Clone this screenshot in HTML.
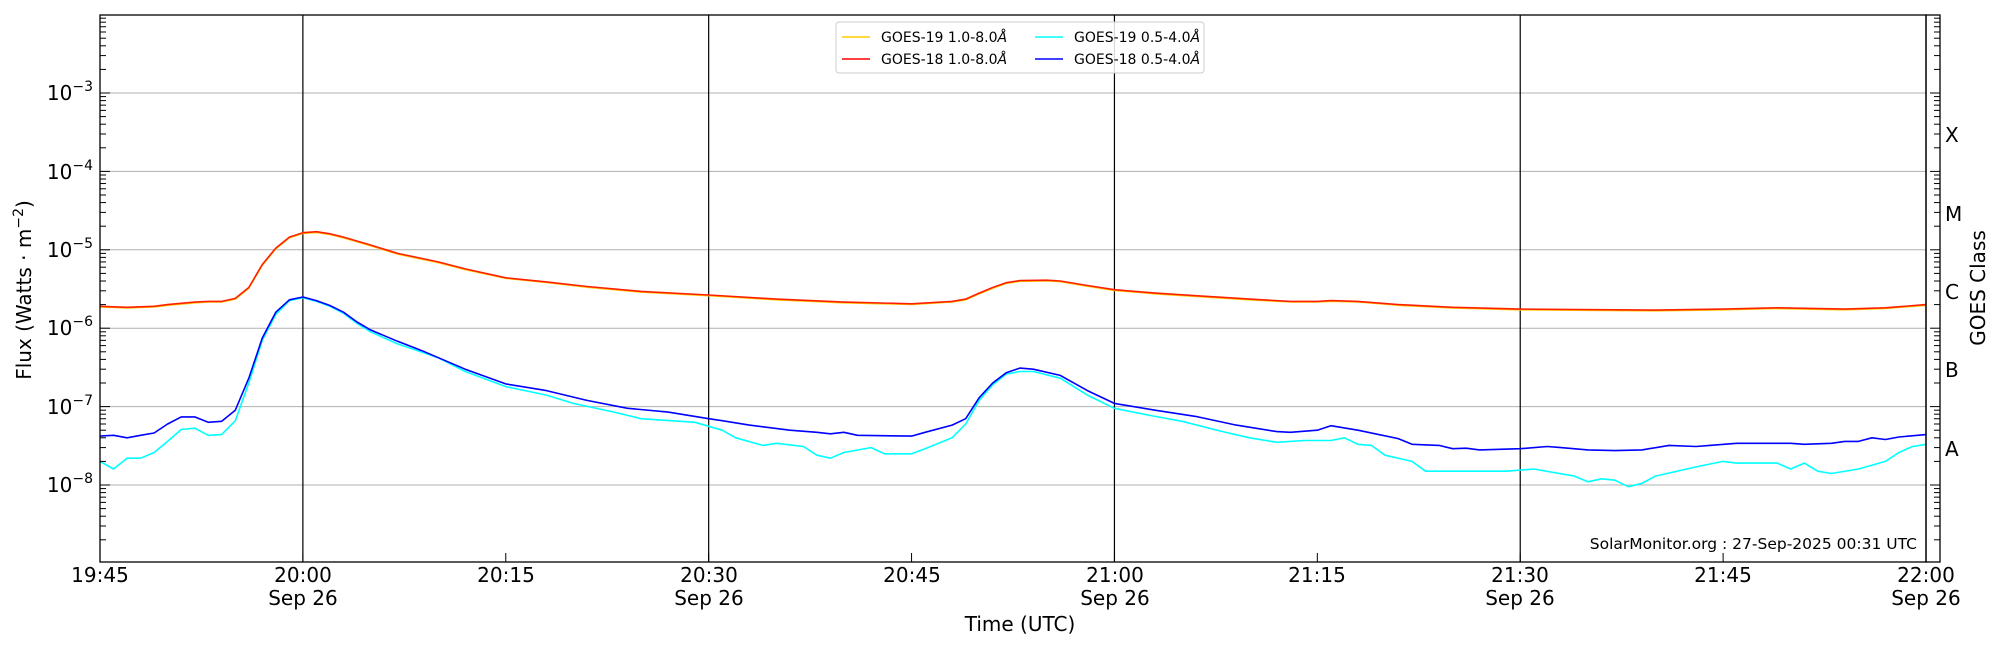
<!DOCTYPE html>
<html><head><meta charset="utf-8"><style>
html,body{margin:0;padding:0;background:#fff;}
svg{display:block;font-family:"DejaVu Sans","Liberation Sans",sans-serif;}
</style></head><body>
<svg id="s" width="2000" height="650" viewBox="0 0 2000 650" xmlns="http://www.w3.org/2000/svg">
<rect x="0" y="0" width="2000" height="650" fill="#fff"/>
<g id="grid"></g>
<g id="series" fill="none" stroke-width="1.6" stroke-linejoin="round"></g>
<g id="ticks" stroke="#000" stroke-width="1"></g>
<rect x="100" y="15" width="1826" height="547" fill="none" stroke="#000" stroke-width="1.3"/>
<rect x="1926" y="15" width="14" height="547" fill="none" stroke="#000" stroke-width="1.3"/>
<g font-size="20" fill="#000" text-anchor="end">
<text x="93" y="100">10<tspan font-size="14" dy="-9">−3</tspan></text>
<text x="93" y="179">10<tspan font-size="14" dy="-9">−4</tspan></text>
<text x="93" y="257">10<tspan font-size="14" dy="-9">−5</tspan></text>
<text x="93" y="335">10<tspan font-size="14" dy="-9">−6</tspan></text>
<text x="93" y="414">10<tspan font-size="14" dy="-9">−7</tspan></text>
<text x="93" y="492">10<tspan font-size="14" dy="-9">−8</tspan></text>
</g>
<g font-size="20" fill="#000">
<text x="1945" y="142">X</text>
<text x="1945" y="221">M</text>
<text x="1945" y="299">C</text>
<text x="1945" y="377">B</text>
<text x="1945" y="456">A</text>
</g>
<g font-size="20" fill="#000" text-anchor="middle">
<text x="100" y="582">19:45</text>
<text x="303" y="582">20:00</text><text x="303" y="605">Sep 26</text>
<text x="506" y="582">20:15</text>
<text x="709" y="582">20:30</text><text x="709" y="605">Sep 26</text>
<text x="912" y="582">20:45</text>
<text x="1115" y="582">21:00</text><text x="1115" y="605">Sep 26</text>
<text x="1317" y="582">21:15</text>
<text x="1520" y="582">21:30</text><text x="1520" y="605">Sep 26</text>
<text x="1723" y="582">21:45</text>
<text x="1926" y="582">22:00</text><text x="1926" y="605">Sep 26</text>
<text x="1020" y="631">Time (UTC)</text>
<text transform="translate(31,290) rotate(-90)">Flux (Watts · m<tspan font-size="14" dy="-8">−2</tspan><tspan dy="8">)</tspan></text>
<text transform="translate(1985,288) rotate(-90)">GOES Class</text>
</g>
<text x="1917" y="549" font-size="15.5" text-anchor="end" fill="#000">SolarMonitor.org : 27-Sep-2025 00:31 UTC</text>
<g>
<rect x="836" y="22" width="368" height="51" rx="3" fill="#fff" fill-opacity="0.85" stroke="#ccc" stroke-width="1"/>
<line x1="842" y1="37" x2="870" y2="37" stroke="#ffcc00" stroke-width="1.5"/>
<line x1="842" y1="59" x2="870" y2="59" stroke="#ff0000" stroke-width="1.5"/>
<line x1="1035" y1="37" x2="1063" y2="37" stroke="#00ffff" stroke-width="1.5"/>
<line x1="1035" y1="59" x2="1063" y2="59" stroke="#0000ff" stroke-width="1.5"/>
<g font-size="14" fill="#000">
<text x="881" y="42">GOES-19 1.0-8.0<tspan font-style="italic">Å</tspan></text>
<text x="881" y="64">GOES-18 1.0-8.0<tspan font-style="italic">Å</tspan></text>
<text x="1074" y="42">GOES-19 0.5-4.0<tspan font-style="italic">Å</tspan></text>
<text x="1074" y="64">GOES-18 0.5-4.0<tspan font-style="italic">Å</tspan></text>
</g>
</g>
</svg>
<script>
(function(){
var NS="http://www.w3.org/2000/svg";
function X(m){return 100+m*1826/135;}
function Y(v){return 14.6+(-2-Math.log10(v))*78.4;}
function el(p,t,a){var e=document.createElementNS(NS,t);for(var k in a)e.setAttribute(k,a[k]);p.appendChild(e);return e;}
var g=document.getElementById('grid'),tk=document.getElementById('ticks'),sr=document.getElementById('series');
for(var d=-3;d>=-8;d--){var y=Y(Math.pow(10,d));el(g,'line',{x1:100,x2:1926,y1:y,y2:y,stroke:'#b0b0b0','stroke-width':1});}
[15,45,75,105].forEach(function(m){el(g,'line',{x1:X(m),x2:X(m),y1:15,y2:562,stroke:'#000','stroke-width':1.2});});
for(var d=-9;d<-2;d++){for(var k=1;k<10;k++){var v=k*Math.pow(10,d);var y=Y(v);if(y<15||y>562)continue;var L=(k==1)?10:6;
el(tk,'line',{x1:100,x2:100+L,y1:y,y2:y});el(tk,'line',{x1:1940,x2:1940-L,y1:y,y2:y});}}
for(var m=0;m<=135;m+=15){el(tk,'line',{x1:X(m),x2:X(m),y1:562,y2:553});}
function P(pts){return pts.map(function(p){var t=p[0].split(':');var m=(+t[0]-19)*60+(+t[1])-45;return X(m).toFixed(1)+','+Y(p[1]).toFixed(1);}).join(' ');}
var red=[["19:45",1.9e-6],["19:47",1.85e-6],["19:49",1.9e-6],["19:50",2.0e-6],["19:52",2.15e-6],["19:53",2.2e-6],["19:54",2.2e-6],["19:55",2.4e-6],["19:56",3.3e-6],["19:57",6.5e-6],["19:58",1.05e-5],["19:59",1.45e-5],["20:00",1.65e-5],["20:01",1.7e-5],["20:02",1.6e-5],["20:03",1.45e-5],["20:05",1.15e-5],["20:07",9e-6],["20:10",7e-6],["20:12",5.7e-6],["20:15",4.4e-6],["20:18",3.9e-6],["20:21",3.4e-6],["20:25",2.95e-6],["20:30",2.65e-6],["20:35",2.35e-6],["20:40",2.15e-6],["20:45",2.05e-6],["20:48",2.2e-6],["20:49",2.35e-6],["20:50",2.8e-6],["20:51",3.3e-6],["20:52",3.8e-6],["20:53",4.05e-6],["20:55",4.1e-6],["20:56",4.0e-6],["20:58",3.5e-6],["21:00",3.1e-6],["21:03",2.8e-6],["21:06",2.6e-6],["21:10",2.35e-6],["21:13",2.2e-6],["21:15",2.2e-6],["21:16",2.25e-6],["21:18",2.2e-6],["21:21",2.0e-6],["21:25",1.85e-6],["21:30",1.75e-6],["21:40",1.7e-6],["21:45",1.75e-6],["21:49",1.82e-6],["21:54",1.75e-6],["21:57",1.82e-6],["22:00",2.0e-6]];
var blue=[["19:45",4.2e-8],["19:46",4.3e-8],["19:47",4.0e-8],["19:48",4.3e-8],["19:49",4.6e-8],["19:50",6.0e-8],["19:51",7.4e-8],["19:52",7.4e-8],["19:53",6.3e-8],["19:54",6.5e-8],["19:55",9e-8],["19:56",2.3e-7],["19:57",7.5e-7],["19:58",1.6e-6],["19:59",2.3e-6],["20:00",2.5e-6],["20:01",2.25e-6],["20:02",1.95e-6],["20:03",1.6e-6],["20:04",1.2e-6],["20:05",9.5e-7],["20:07",6.8e-7],["20:09",5e-7],["20:12",3e-7],["20:15",1.95e-7],["20:18",1.6e-7],["20:21",1.2e-7],["20:24",9.5e-8],["20:27",8.5e-8],["20:30",7e-8],["20:31",6.6e-8],["20:33",5.8e-8],["20:36",5e-8],["20:38",4.7e-8],["20:39",4.5e-8],["20:40",4.7e-8],["20:41",4.3e-8],["20:45",4.2e-8],["20:46",4.7e-8],["20:48",5.8e-8],["20:49",7e-8],["20:50",1.3e-7],["20:51",2e-7],["20:52",2.7e-7],["20:53",3.1e-7],["20:54",3.0e-7],["20:56",2.5e-7],["20:58",1.6e-7],["21:00",1.1e-7],["21:03",9e-8],["21:06",7.5e-8],["21:09",5.8e-8],["21:12",4.8e-8],["21:13",4.7e-8],["21:15",5e-8],["21:16",5.7e-8],["21:18",5e-8],["21:21",3.9e-8],["21:22",3.3e-8],["21:24",3.2e-8],["21:25",2.9e-8],["21:26",2.95e-8],["21:27",2.8e-8],["21:30",2.9e-8],["21:32",3.1e-8],["21:33",3.0e-8],["21:35",2.8e-8],["21:37",2.75e-8],["21:39",2.8e-8],["21:41",3.2e-8],["21:43",3.1e-8],["21:44",3.2e-8],["21:46",3.4e-8],["21:50",3.4e-8],["21:51",3.3e-8],["21:53",3.4e-8],["21:54",3.6e-8],["21:55",3.6e-8],["21:56",4.0e-8],["21:57",3.8e-8],["21:58",4.1e-8],["22:00",4.4e-8]];
var cyan=[["19:45",2e-8],["19:46",1.6e-8],["19:47",2.2e-8],["19:48",2.2e-8],["19:49",2.6e-8],["19:50",3.6e-8],["19:51",5.1e-8],["19:52",5.3e-8],["19:53",4.3e-8],["19:54",4.4e-8],["19:55",6.6e-8],["19:56",2e-7],["19:57",7e-7],["19:58",1.5e-6],["19:59",2.25e-6],["20:00",2.45e-6],["20:01",2.2e-6],["20:02",1.9e-6],["20:03",1.55e-6],["20:04",1.15e-6],["20:05",9e-7],["20:07",6.3e-7],["20:10",4.2e-7],["20:12",2.8e-7],["20:15",1.8e-7],["20:18",1.4e-7],["20:20",1.1e-7],["20:23",8.5e-8],["20:25",7e-8],["20:29",6.3e-8],["20:30",5.6e-8],["20:31",5e-8],["20:32",4e-8],["20:34",3.2e-8],["20:35",3.4e-8],["20:37",3.1e-8],["20:38",2.4e-8],["20:39",2.2e-8],["20:40",2.6e-8],["20:42",3e-8],["20:43",2.5e-8],["20:45",2.5e-8],["20:46",2.9e-8],["20:48",4e-8],["20:49",6e-8],["20:50",1.2e-7],["20:51",1.9e-7],["20:52",2.6e-7],["20:53",2.8e-7],["20:54",2.8e-7],["20:56",2.3e-7],["20:58",1.4e-7],["21:00",9.5e-8],["21:03",7.5e-8],["21:05",6.5e-8],["21:08",4.8e-8],["21:10",4e-8],["21:12",3.5e-8],["21:14",3.7e-8],["21:16",3.7e-8],["21:17",4e-8],["21:18",3.3e-8],["21:19",3.2e-8],["21:20",2.4e-8],["21:22",2e-8],["21:23",1.5e-8],["21:29",1.5e-8],["21:31",1.6e-8],["21:34",1.3e-8],["21:35",1.1e-8],["21:36",1.2e-8],["21:37",1.15e-8],["21:38",0.95e-8],["21:39",1.05e-8],["21:40",1.3e-8],["21:43",1.7e-8],["21:45",2e-8],["21:46",1.9e-8],["21:49",1.9e-8],["21:50",1.6e-8],["21:51",1.9e-8],["21:52",1.5e-8],["21:53",1.4e-8],["21:55",1.6e-8],["21:57",2e-8],["21:58",2.6e-8],["21:59",3.1e-8],["22:00",3.3e-8]];
var yel=red.map(function(p){return [p[0],p[1]*0.98];});
el(sr,'polyline',{points:P(yel),stroke:'#ffcc00'});
el(sr,'polyline',{points:P(red),stroke:'#ff2000'});
el(sr,'polyline',{points:P(cyan),stroke:'#00ffff'});
el(sr,'polyline',{points:P(blue),stroke:'#0000ff'});
})();
</script>
</body></html>
